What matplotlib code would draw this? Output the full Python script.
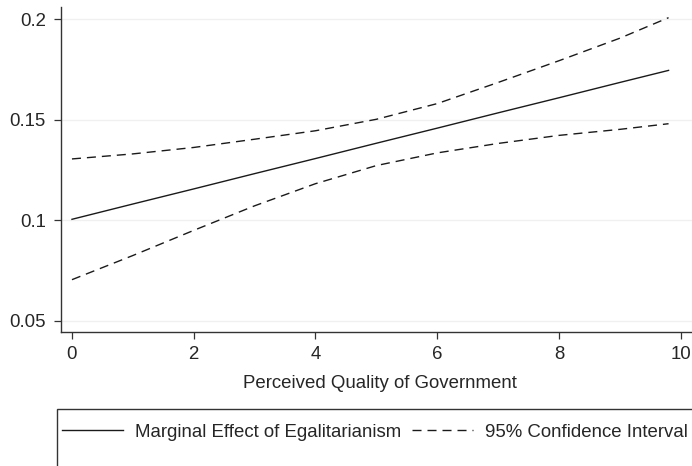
import matplotlib
matplotlib.use("Agg")
import matplotlib.pyplot as plt
from matplotlib.patches import Rectangle
from matplotlib.lines import Line2D

plt.rcParams['font.family'] = ['Liberation Sans', 'DejaVu Sans']

# values
quality = [0, 1, 2, 3, 4, 5, 6, 7, 8, 9, 9.8]
effect = [0.1005, 0.1081, 0.1156, 0.1232, 0.1307, 0.1383, 0.1458, 0.1534, 0.1609, 0.1685, 0.1745]
ci_upper = [0.1305, 0.1330, 0.1362, 0.1403, 0.1445, 0.1502, 0.1580, 0.1685, 0.1793, 0.1905, 0.2007]
ci_lower = [0.0705, 0.0825, 0.0950, 0.1072, 0.1182, 0.1272, 0.1335, 0.1382, 0.1422, 0.1452, 0.1480]
xticks = [0, 2, 4, 6, 8, 10]
yticks = [0.05, 0.1, 0.15, 0.2]
ytick_labels = ["0.05", "0.1", "0.15", "0.2"]

W, H = 692, 466
fig = plt.figure(figsize=(W / 100, H / 100), dpi=100)
ax = fig.add_axes([61 / W, 1 - 332 / H, 638 / W, 325 / H])

fs = 13.4
txt = "#262626"
dash = (0, (6.5, 4.3))

ax.plot(quality, effect, color="#1a1a1a", lw=1.0)
ax.plot(quality, ci_upper, color="#1a1a1a", lw=1.0, linestyle=dash)
ax.plot(quality, ci_lower, color="#1a1a1a", lw=1.0, linestyle=dash)

ax.set_xlim(-0.18, 10.3)
ax.set_ylim(0.0445, 0.206)
ax.set_xticks(xticks)
ax.set_yticks(yticks)
ax.set_yticklabels(ytick_labels)
ax.yaxis.grid(True, color="#f0f0f0", lw=1.0)
ax.set_axisbelow(True)

for s in ["top", "right"]:
    ax.spines[s].set_visible(False)
for s in ["left", "bottom"]:
    ax.spines[s].set_color("#333333")
    ax.spines[s].set_linewidth(1.0)

ax.tick_params(axis="both", direction="out", length=5, width=0.9, color="#333333",
               labelsize=fs, labelcolor=txt)
ax.tick_params(axis="x", pad=5)
ax.tick_params(axis="y", pad=6)
ax.set_xlabel("Perceived Quality of Government", fontsize=fs, color=txt, labelpad=9)

# legend box, Stata style, running off the figure edge
fig.patches.append(Rectangle((57 / W, -0.1), 1.0, 1 - 409 / H + 0.1, transform=fig.transFigure,
                             fill=False, edgecolor="#333333", lw=1.0))
handles = [Line2D([], [], color="#1a1a1a", lw=1.0),
           Line2D([], [], color="#1a1a1a", lw=1.0, linestyle=dash)]
fig.legend(handles, ["Marginal Effect of Egalitarianism", "95% Confidence Interval"],
           loc="center left", bbox_to_anchor=(62 / W, 1 - 432 / H), ncol=2, frameon=False,
           fontsize=fs, labelcolor=txt, handlelength=3.3, handletextpad=0.6,
           columnspacing=0.6, borderpad=0, borderaxespad=0)

fig.savefig("out.png", dpi=100)
